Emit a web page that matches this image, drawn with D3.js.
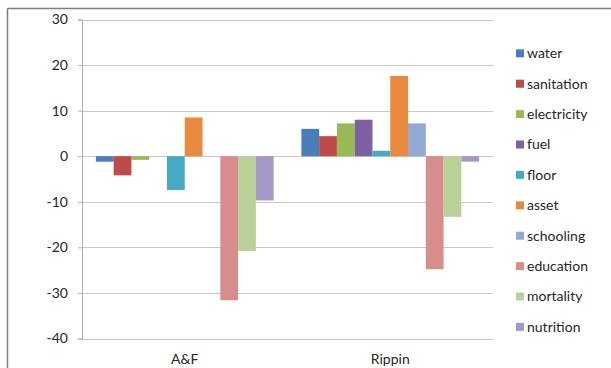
<!DOCTYPE html>
<html><head><meta charset="utf-8">
<script src="https://cdn.jsdelivr.net/npm/d3@7"></script>
<style>
html,body{margin:0;padding:0;background:#fff;}
svg text{font-family:Lato,"Open Sans","Liberation Sans",sans-serif;fill:#262626;}
</style></head>
<body><svg id="c" width="611" height="368"></svg>
<script>
const categories = ["A&F", "Rippin"];
const seriesNames = ["water","sanitation","electricity","fuel","floor","asset","schooling","education","mortality","nutrition"];
const seriesColors = ["#4A7EBB","#BE4B48","#98B954","#7D60A0","#46AAC5","#E8893E","#93A9D5","#D68D8C","#B9D196","#A698C6"];
const valuesAF     = [-1.2, -4.2, -0.8, 0, -7.4, 8.5, 0, -31.6, -20.8, -9.7];
const valuesRippin = [6.0, 4.4, 7.2, 8.0, 1.2, 17.6, 7.2, -24.8, -13.3, -1.2];
const yTicks = [30, 20, 10, 0, -10, -20, -30, -40];

const svg = d3.select("#c");
const pLeft = 82, pRight = 493, pTop = 19.5, pBottom = 338.5;

// outer chart border (top and left edges visible)
svg.append("line").attr("x1",7.5).attr("x2",611).attr("y1",8.5).attr("y2",8.5).attr("stroke","#7f7f7f").attr("stroke-width",1.5);
svg.append("line").attr("x1",7.5).attr("x2",7.5).attr("y1",8.5).attr("y2",368).attr("stroke","#7f7f7f").attr("stroke-width",1.5);

const y = d3.scaleLinear().domain([-40,30]).range([pBottom, pTop]);
const x0 = d3.scaleBand().domain(categories).range([pLeft, pRight]).paddingInner(0).paddingOuter(0);
const x1 = d3.scaleBand().domain(seriesNames).range([0, x0.bandwidth()]).paddingInner(0).paddingOuter(0.78);

// gridlines
svg.append("g").selectAll("line").data(yTicks).join("line")
  .attr("x1", pLeft).attr("x2", pRight)
  .attr("y1", d => Math.round(y(d))+0.5).attr("y2", d => Math.round(y(d))+0.5)
  .attr("stroke", "#c8c8c8").attr("stroke-width", 1.2);

// y axis
const yAxis = svg.append("g").attr("transform", `translate(${pLeft},0)`)
  .call(d3.axisLeft(y).tickValues(yTicks).tickSize(4).tickPadding(10).tickFormat(d => String(d)));
yAxis.select(".domain").attr("stroke","#b0b0b0");
yAxis.selectAll(".tick line").attr("stroke","#b0b0b0");
yAxis.selectAll("text").style("font-size","14px").style("font-family","Lato, sans-serif").attr("fill","#262626");

const data = [valuesAF, valuesRippin];
const groups = svg.append("g").selectAll("g").data(categories).join("g")
  .attr("transform", d => `translate(${x0(d)},0)`);
groups.selectAll("rect").data((c,i) => seriesNames.map((s,j) => ({s, v: data[i][j], color: seriesColors[j]})))
  .join("rect")
  .attr("x", d => x1(d.s)).attr("width", x1.bandwidth())
  .attr("y", d => y(Math.max(0,d.v))).attr("height", d => Math.abs(y(d.v)-y(0)))
  .attr("fill", d => d.color);

// category labels
svg.append("g").selectAll("text").data(categories).join("text")
  .attr("x", d => x0(d) + x0.bandwidth()/2).attr("y", 364)
  .attr("text-anchor","middle").style("font-size","14px").text(d => d);

// legend
const leg = svg.append("g").selectAll("g").data(seriesNames).join("g")
  .attr("transform", (d,i) => `translate(516,${53.3 + i*30.4})`);
leg.append("rect").attr("x",0).attr("y",-4).attr("width",8).attr("height",8)
  .attr("fill",(d,i) => seriesColors[i]);
leg.append("text").attr("x",11).attr("y",0).attr("dy","0.35em").style("font-size","14px").text(d => d);
</script></body></html>
